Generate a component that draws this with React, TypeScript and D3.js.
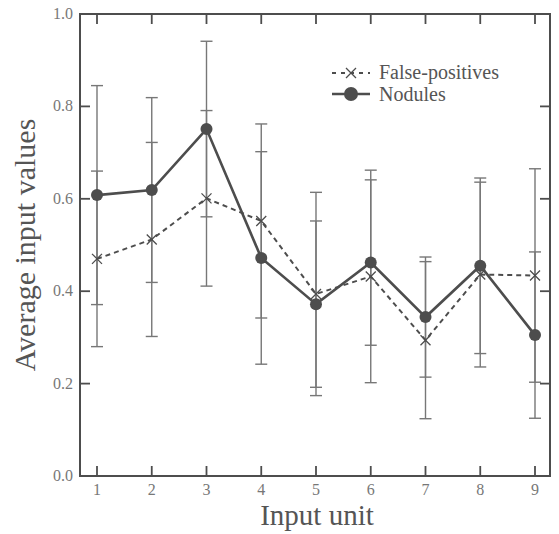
import React, { useEffect, useRef } from "react";
import * as d3 from "d3";

const units = [1, 2, 3, 4, 5, 6, 7, 8, 9];
const noduleMeans = [0.608, 0.619, 0.751, 0.472, 0.372, 0.462, 0.344, 0.455, 0.305];
const noduleErr = [0.237, 0.2, 0.19, 0.23, 0.18, 0.179, 0.13, 0.19, 0.18];
const fpMeans = [0.47, 0.512, 0.601, 0.552, 0.394, 0.432, 0.294, 0.436, 0.434];
const fpErr = [0.19, 0.21, 0.19, 0.21, 0.22, 0.23, 0.17, 0.2, 0.231];
const yTicks = [0, 0.2, 0.4, 0.6, 0.8, 1.0];
const legendLabels = ["False-positives", "Nodules"];

const W = 559;
const H = 534;
const M = { left: 80, right: 550, top: 14, bottom: 476 };
const ink = "#4d4d4d";
const font = "Liberation Serif, Times New Roman, serif";

export default function App() {
  const ref = useRef<SVGSVGElement>(null);

  useEffect(() => {
    const svg = d3.select(ref.current);
    svg.selectAll("*").remove();

    const x = d3.scaleLinear().domain([0.6895, 9.274]).range([M.left, M.right]);
    const y = d3.scaleLinear().domain([0, 1]).range([M.bottom, M.top]);
    const tl = 10;

    const g = svg.append("g").style("font-family", font);

    // frame
    g.append("rect")
      .attr("x", M.left)
      .attr("y", M.top)
      .attr("width", M.right - M.left)
      .attr("height", M.bottom - M.top)
      .attr("fill", "none")
      .attr("stroke", ink)
      .attr("stroke-width", 2);

    // x ticks top + bottom (inward)
    units.forEach((u) => {
      g.append("line")
        .attr("x1", x(u)).attr("x2", x(u))
        .attr("y1", M.bottom).attr("y2", M.bottom - tl)
        .attr("stroke", ink).attr("stroke-width", 1.8);
      g.append("line")
        .attr("x1", x(u)).attr("x2", x(u))
        .attr("y1", M.top).attr("y2", M.top + tl)
        .attr("stroke", ink).attr("stroke-width", 1.8);
      g.append("text")
        .attr("x", x(u))
        .attr("y", M.bottom + 19)
        .attr("text-anchor", "middle")
        .style("font-size", "16px")
        .attr("fill", "#777")
        .text(u);
    });

    // y ticks left + right
    yTicks.forEach((t) => {
      if (t > 0 && t < 1) {
        g.append("line")
          .attr("x1", M.left).attr("x2", M.left + tl)
          .attr("y1", y(t)).attr("y2", y(t))
          .attr("stroke", ink).attr("stroke-width", 1.8);
        g.append("line")
          .attr("x1", M.right).attr("x2", M.right - tl)
          .attr("y1", y(t)).attr("y2", y(t))
          .attr("stroke", ink).attr("stroke-width", 1.8);
      }
      g.append("text")
        .attr("x", M.left - 7)
        .attr("y", y(t) + 5)
        .attr("text-anchor", "end")
        .style("font-size", "16px")
        .attr("fill", "#777")
        .text(d3.format(".1f")(t));
    });

    // error bars
    const bars = (means: number[], errs: number[]) => {
      units.forEach((u, i) => {
        const lo = means[i] - errs[i];
        const hi = means[i] + errs[i];
        g.append("line")
          .attr("x1", x(u)).attr("x2", x(u))
          .attr("y1", y(lo)).attr("y2", y(hi))
          .attr("stroke", "#777").attr("stroke-width", 1.4);
        [lo, hi].forEach((v) => {
          g.append("line")
            .attr("x1", x(u) - 6).attr("x2", x(u) + 6)
            .attr("y1", y(v)).attr("y2", y(v))
            .attr("stroke", "#777").attr("stroke-width", 1.4);
        });
      });
    };
    bars(noduleMeans, noduleErr);
    bars(fpMeans, fpErr);

    const line = d3
      .line<number>()
      .x((d, i) => x(units[i]))
      .y((d) => y(d));

    // false positives dashed + x markers
    g.append("path")
      .datum(fpMeans)
      .attr("d", line)
      .attr("fill", "none")
      .attr("stroke", ink)
      .attr("stroke-width", 2)
      .attr("stroke-dasharray", "5,4");

    const cross = (cx: number, cy: number, s: number) => {
      g.append("path")
        .attr("d", `M${cx - s},${cy - s}L${cx + s},${cy + s}M${cx - s},${cy + s}L${cx + s},${cy - s}`)
        .attr("stroke", ink)
        .attr("stroke-width", 1.3)
        .attr("fill", "none");
    };
    fpMeans.forEach((v, i) => cross(x(units[i]), y(v), 5));

    // nodules solid + circles
    g.append("path")
      .datum(noduleMeans)
      .attr("d", line)
      .attr("fill", "none")
      .attr("stroke", ink)
      .attr("stroke-width", 2.6);

    g.selectAll("circle.nod")
      .data(noduleMeans)
      .enter()
      .append("circle")
      .attr("class", "nod")
      .attr("cx", (d, i) => x(units[i]))
      .attr("cy", (d) => y(d))
      .attr("r", 6)
      .attr("fill", ink);

    // legend
    const lx1 = 332;
    const lx2 = 370;
    g.append("line")
      .attr("x1", lx1).attr("x2", lx2)
      .attr("y1", 73).attr("y2", 73)
      .attr("stroke", ink).attr("stroke-width", 2)
      .attr("stroke-dasharray", "4,5");
    cross((lx1 + lx2) / 2, 73, 5);
    g.append("line")
      .attr("x1", lx1).attr("x2", lx2)
      .attr("y1", 94).attr("y2", 94)
      .attr("stroke", ink).attr("stroke-width", 2.6);
    g.append("circle")
      .attr("cx", (lx1 + lx2) / 2)
      .attr("cy", 94)
      .attr("r", 7)
      .attr("fill", ink);
    legendLabels.forEach((t, i) => {
      g.append("text")
        .attr("x", 379)
        .attr("y", 79 + i * 22)
        .style("font-size", "20px")
        .attr("fill", "#555")
        .text(t);
    });

    // axis titles
    g.append("text")
      .attr("x", (M.left + M.right) / 2 + 2)
      .attr("y", 525)
      .attr("text-anchor", "middle")
      .style("font-size", "29px")
      .attr("fill", "#555")
      .text("Input unit");
    g.append("text")
      .attr("transform", `translate(35,${(M.top + M.bottom) / 2}) rotate(-90)`)
      .attr("text-anchor", "middle")
      .style("font-size", "30px")
      .attr("fill", "#555")
      .text("Average input values");
  }, []);

  return (
    <svg
      ref={ref}
      width={W}
      height={H}
      style={{ position: "absolute", left: 0, top: 0, background: "#fff" }}
    />
  );
}
